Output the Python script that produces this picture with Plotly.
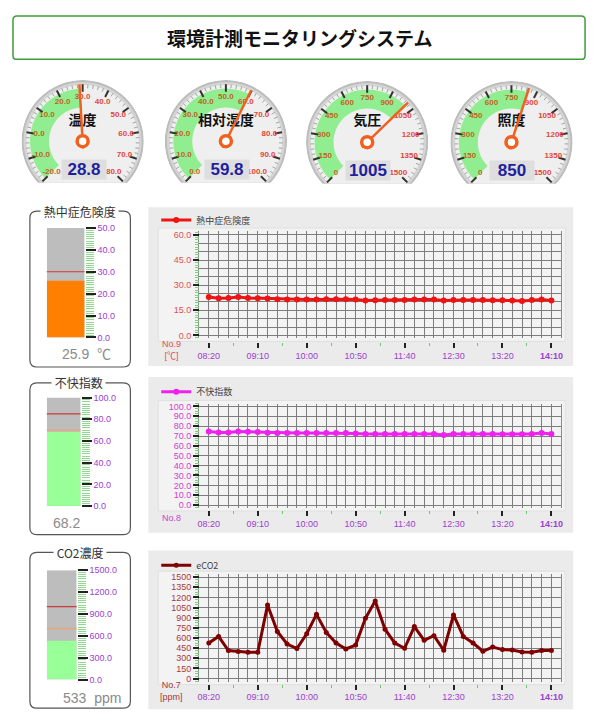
import math
import pandas as pd
import plotly.graph_objects as go

# page body has an 8px margin: the figure is sized so it fills the window exactly
OFF = 8
W, H = 600 - OFF, 728 - OFF
FONT = "Liberation Sans, Noto Sans CJK JP, sans-serif"
JP = "Noto Sans CJK JP, Liberation Sans, sans-serif"

# ---------------- data ----------------
TITLE = "環境計測モニタリングシステム"

GAUGE_NAMES = ["温度", "相対湿度", "気圧", "照度"]
GAUGE_VALUES = [28.8, 59.8, 1005, 850]
GAUGE_TEXT = ["28.8", "59.8", "1005", "850"]
GAUGE_MIN = [-20, 0, 0, 0]
GAUGE_MAX = [80, 100, 1500, 1500]
GAUGE_STEP = [10, 10, 150, 150]
GAUGE_DECIMALS = [1, 1, 0, 0]

TIMES = ["08:20", "08:30", "08:40", "08:50", "09:00", "09:10", "09:20", "09:30",
         "09:40", "09:50", "10:00", "10:10", "10:20", "10:30", "10:40", "10:50",
         "11:00", "11:10", "11:20", "11:30", "11:40", "11:50", "12:00", "12:10",
         "12:20", "12:30", "12:40", "12:50", "13:00", "13:10", "13:20", "13:30",
         "13:40", "13:50", "14:00", "14:10"]
DATE = "2024-06-01 "

HEAT = [22.9, 22.2, 22.4, 22.9, 22.4, 22.2, 22.0, 21.6, 21.4, 21.4, 21.4, 21.4,
        21.6, 21.6, 21.6, 21.4, 20.8, 21.0, 21.2, 21.2, 21.2, 21.4, 21.4, 21.4,
        20.8, 21.2, 21.2, 21.2, 21.2, 21.0, 21.0, 20.8, 20.6, 21.2, 21.4, 20.8]
DISCOMFORT = [74.7, 73.7, 73.7, 74.7, 74.3, 74.0, 73.3, 73.0, 73.0, 73.0, 73.0, 73.0,
              73.0, 73.0, 73.0, 72.7, 72.0, 72.0, 72.0, 72.0, 72.0, 72.0, 72.0, 72.0,
              71.0, 72.0, 72.0, 72.0, 72.0, 72.0, 71.7, 71.7, 71.7, 72.0, 73.0, 72.0]
ECO2 = [526, 623, 414, 400, 390, 390, 1086, 696, 511, 444, 663, 949,
        682, 526, 438, 496, 891, 1145, 730, 526, 448, 769, 565, 633,
        419, 940, 623, 526, 404, 467, 429, 423, 394, 390, 414, 414]
SERIES = [HEAT, DISCOMFORT, ECO2]
SERIES_NAMES = ["熱中症危険度", "不快指数", "eCO2"]
SERIES_UNITS = ["No.9<br>[℃]", "No.8", "No.7<br>[ppm]"]
CH_YMAX = [60, 100, 1500]
CH_LABEL_STEP = [15, 10, 150]
CH_GRID_STEP = [5, 10, 150]
CH_MINOR_STEP = [1.5, 2.5, 37.5]
CH_TICKFMT = [".1f", ".1f", "d"]
X_LABEL_EVERY = 5

LEVEL_NAMES = ["熱中症危険度", "不快指数", "CO2濃度"]
LEVEL_VALUES = [25.9, 68.2, 533]
LEVEL_TEXT = ["25.9  ℃", "68.2", "533  ppm"]
LEVEL_MAX = [50, 100, 1500]
LEVEL_STEP = [10, 20, 300]
LEVEL_WARN = [None, 70, 700]
LEVEL_ALERT = [30, 85, 1000]


# ---------------- helpers (window pixels -> paper) ----------------
def fx(p):
    return (p - OFF) / W


def fy(p):
    return 1 - (p - OFF) / H


def aid(letter, n):
    return letter if n == 1 else f"{letter}{n}"


def akey(letter, n):
    return f"{letter}axis" if n == 1 else f"{letter}axis{n}"


fig = go.Figure()
layout = {}
shapes = []
annotations = []


def rounded_path(x0, y0, x1, y1, r):
    pts = [("M", [(x0 + r, y0)]), ("L", [(x1 - r, y0)]), ("Q", [(x1, y0), (x1, y0 + r)]),
           ("L", [(x1, y1 - r)]), ("Q", [(x1, y1), (x1 - r, y1)]), ("L", [(x0 + r, y1)]),
           ("Q", [(x0, y1), (x0, y1 - r)]), ("L", [(x0, y0 + r)]), ("Q", [(x0, y0), (x0 + r, y0)])]
    s = ""
    for cmd, ps in pts:
        s += cmd + " " + " ".join(f"{fx(a):.5f},{fy(b):.5f}" for a, b in ps) + " "
    return s + "Z"


# ---------------- title ----------------
shapes.append(dict(type="path", xref="paper", yref="paper", path=rounded_path(12, 11, 587, 55, 4),
                   line=dict(color="#3f9b3a", width=1.5), fillcolor="white", layer="below"))
annotations.append(dict(x=fx(300), y=fy(33), xref="paper", yref="paper", showarrow=False,
                        xanchor="center", yanchor="middle",
                        text=f"<b>{TITLE}</b>", font=dict(family=JP, size=19, color="#111")))

# ---------------- gauges ----------------
G_CX = [82, 226, 368, 513]
G_CY = [138, 138, 139, 139]
G_R = 62
CHORD = 0.68


def g_theta(v, vmin, vmax):
    return 225 - (v - vmin) / (vmax - vmin) * 270


def chord_arc(r, n=100):
    a = math.degrees(math.asin(min(CHORD / r, 1.0)))
    s, e = 180 + a, -a
    return [s + (e - s) * k / (n - 1) for k in range(n)]


for i in range(4):
    sp = "polar" if i == 0 else f"polar{i + 1}"
    cx, cy = G_CX[i], G_CY[i]
    vmin, vmax, step, val = GAUGE_MIN[i], GAUGE_MAX[i], GAUGE_STEP[i], GAUGE_VALUES[i]
    layout[sp] = dict(domain=dict(x=[fx(cx - G_R), fx(cx + G_R)], y=[fy(cy + G_R), fy(cy - G_R)]),
                      bgcolor="rgba(0,0,0,0)",
                      radialaxis=dict(visible=False, range=[0, 1]),
                      angularaxis=dict(visible=False))
    common = dict(subplot=sp, hoverinfo="skip", showlegend=False)

    for rr, col in [(1.0, "#bdbdbd"), (0.965, "#d4d4d4"), (0.92, "#efefef")]:
        th = chord_arc(rr)
        fig.add_trace(go.Scatterpolar(r=[rr] * len(th), theta=th, mode="lines", fill="toself",
                                      fillcolor=col, line=dict(width=0, color=col), **common))

    t0, tv = g_theta(vmin, vmin, vmax), g_theta(val, vmin, vmax)
    n = 80
    arc = [t0 + (tv - t0) * k / (n - 1) for k in range(n)]
    fig.add_trace(go.Scatterpolar(r=[0.86] * n + [0.55] * n, theta=arc + arc[::-1], mode="lines",
                                  fill="toself", fillcolor="#90ee90", line=dict(width=0, color="#90ee90"),
                                  **common))

    nint = round((vmax - vmin) / step)
    mr, mt = [], []
    for j in range(nint * 5 + 1):
        if j % 5:
            th = g_theta(vmin + j * step / 5, vmin, vmax)
            mr += [0.87, 0.93, None]
            mt += [th, th, None]
    fig.add_trace(go.Scatterpolar(r=mr, theta=mt, mode="lines", line=dict(color="#9aa89a", width=1), **common))

    majors = [vmin + j * step for j in range(nint + 1)]
    Mr, Mt = [], []
    for v in majors:
        th = g_theta(v, vmin, vmax)
        Mr += [0.81, 0.93, None]
        Mt += [th, th, None]
    fig.add_trace(go.Scatterpolar(r=Mr, theta=Mt, mode="lines", line=dict(color="#333", width=2), **common))

    dec = GAUGE_DECIMALS[i]
    labels = [f"{v:.{dec}f}" for v in majors]
    lcols = ["#c0641e" if v <= val else "#e2473a" for v in majors]
    fig.add_trace(go.Scatterpolar(r=[0.72] * len(majors), theta=[g_theta(v, vmin, vmax) for v in majors],
                                  mode="text", text=[f"<b>{t}</b>" for t in labels],
                                  textfont=dict(family=FONT, size=8, color=lcols), **common))

    fig.add_trace(go.Scatterpolar(r=[0.33], theta=[90], mode="text", text=[f"<b>{GAUGE_NAMES[i]}</b>"],
                                  textfont=dict(family=JP, size=14, color="#111"), **common))

    fig.add_trace(go.Scatterpolar(r=[0.12, 0, 0.93], theta=[tv + 180, tv, tv], mode="lines",
                                  line=dict(color="#f0601e", width=2.5), **common))
    fig.add_trace(go.Scatterpolar(r=[0], theta=[0], mode="markers",
                                  marker=dict(size=11, color="white", line=dict(color="#f0601e", width=3.5)),
                                  **common))

    annotations.append(dict(x=fx(cx + 1), y=fy(cy + 29), xref="paper", yref="paper", showarrow=False,
                            text=f"<b>{GAUGE_TEXT[i]}</b>", font=dict(family=FONT, size=17, color="#1f1f9e"),
                            bgcolor="#dedede", width=42, height=17, xanchor="center", yanchor="middle"))

# ---------------- line charts ----------------
PANEL = [(148, 205, 575, 366), (148, 377, 575, 535), (148, 553, 575, 714)]
CH_TOP = [229, 404, 577]
CH_BOT = [338, 510, 686]
CH_VT = [233, 407, 580]
CH_VB = [335, 507, 683]
CH_TICK_Y = [342, 512, 688]
CH_X0, CH_X1 = 199, 563
LINE_COLORS = ["#ee1414", "#ee22ee", "#7f0000"]
LABEL_COLORS = ["#e05050", "#d040d0", "#a83a3a"]
LEGEND_Y = [218, 392, 568]

xd = [DATE + t for t in TIMES]
t_first = pd.Timestamp(xd[0])
t_last = pd.Timestamp(xd[-1])
xr = [(t_first - pd.Timedelta(minutes=10)).strftime("%Y-%m-%d %H:%M"),
      (t_last + pd.Timedelta(minutes=10)).strftime("%Y-%m-%d %H:%M")]
x_tickvals = xd[::X_LABEL_EVERY]
x_ticktext = TIMES[::X_LABEL_EVERY]
x_ticktext = x_ticktext[:-1] + [f"<b>{x_ticktext[-1]}</b>"]

for k in range(3):
    px0, py0, px1, py1 = PANEL[k]
    shapes.append(dict(type="rect", xref="paper", yref="paper", x0=fx(px0), x1=fx(px1), y0=fy(py1), y1=fy(py0),
                       fillcolor="#ebebeb", line=dict(width=0), layer="below"))
    shapes.append(dict(type="rect", xref="paper", yref="paper", x0=fx(158), x1=fx(567),
                       y0=fy(CH_BOT[k] + 3), y1=fy(CH_TOP[k] - 3),
                       fillcolor="#f3f3f3", line=dict(width=1, color="#e0e0e0"), layer="below"))

    nm, no = k + 1, k + 4
    xm, ym, xo, yo = aid("x", nm), aid("y", nm), aid("x", no), aid("y", no)
    ymax = CH_YMAX[k]
    u = ymax / (CH_VB[k] - CH_VT[k])
    yr = [-(CH_BOT[k] - CH_VB[k]) * u, ymax + (CH_VT[k] - CH_TOP[k]) * u]

    layout[akey("x", nm)] = dict(domain=[fx(CH_X0), fx(CH_X1)], anchor=ym, type="date", range=xr,
                                 tick0=xd[0], dtick=600000, showgrid=True, gridcolor="#7d7d7d", gridwidth=1,
                                 showticklabels=False, ticks="", zeroline=False, showline=False)
    layout[akey("y", nm)] = dict(domain=[fy(CH_BOT[k]), fy(CH_TOP[k])], anchor=xm, range=yr, tick0=0,
                                 dtick=CH_GRID_STEP[k], showgrid=True, gridcolor="#7d7d7d", gridwidth=1,
                                 showticklabels=False, ticks="", zeroline=False, showline=True, mirror=True,
                                 linecolor="#8a8a8a", linewidth=1)
    layout[akey("x", no)] = dict(overlaying=xm, anchor="free", position=fy(CH_TICK_Y[k]), side="bottom",
                                 type="date", range=xr, tickmode="array", tickvals=x_tickvals,
                                 ticktext=x_ticktext,
                                 ticks="outside", ticklen=5, tickwidth=2, tickcolor="#222",
                                 tickfont=dict(family=FONT, size=9, color="#9b40d0"),
                                 minor=dict(tickmode="linear", tick0=xd[0], dtick=1500000, ticks="outside",
                                            ticklen=3, tickwidth=1, tickcolor="#70c870"),
                                 showgrid=False, zeroline=False, showline=False)
    layout[akey("y", no)] = dict(overlaying=ym, anchor="free", position=fx(CH_X0), side="left", range=yr,
                                 tick0=0, dtick=CH_LABEL_STEP[k], tickformat=CH_TICKFMT[k],
                                 ticks="outside", ticklen=6, tickwidth=2, tickcolor="#222",
                                 tickfont=dict(family=FONT, size=9, color=LABEL_COLORS[k]),
                                 minor=dict(tick0=0, dtick=CH_MINOR_STEP[k], ticks="outside", ticklen=4,
                                            tickwidth=1, tickcolor="#7fcf7f"),
                                 showgrid=False, zeroline=False, showline=False)

    lg = "legend" if k == 0 else f"legend{k + 1}"
    fig.add_trace(go.Scatter(x=xd, y=SERIES[k], xaxis=xm, yaxis=ym, mode="lines+markers",
                             name=SERIES_NAMES[k], legend=lg,
                             line=dict(color=LINE_COLORS[k], width=3),
                             marker=dict(size=6 if k < 2 else 5, color=LINE_COLORS[k])))
    fig.add_trace(go.Scatter(x=xd, y=SERIES[k], xaxis=xo, yaxis=yo, mode="markers",
                             marker=dict(opacity=0), showlegend=False, hoverinfo="skip"))
    layout[lg] = dict(x=fx(156), y=fy(LEGEND_Y[k]), xanchor="left", yanchor="middle",
                      bgcolor="rgba(0,0,0,0)", font=dict(family=JP, size=9, color="#444"),
                      itemwidth=30, tracegroupgap=0)
    annotations.append(dict(x=fx(171), y=fy(CH_TICK_Y[k] + 8), xref="paper", yref="paper", showarrow=False,
                            text=SERIES_UNITS[k], font=dict(family=FONT, size=9, color=LABEL_COLORS[k]),
                            xanchor="center", yanchor="middle"))

# ---------------- level bars ----------------
BAR_X = [(46, 84), (46, 80), (46, 76)]
BAR_Y = [(226, 337), (398, 508), (573, 684)]
BOX = [(29, 209, 130, 367), (29, 383, 130, 537), (29, 555, 130, 713)]
BOX_TITLE_X = [79, 78, 79]
TEXT_POS = [(86, 354), (66, 525), (91, 703)]
BAR_COLORS = ["#ff8000", "#99ff99", "#99ff99"]

for k in range(3):
    nb = k + 7
    xb, yb = aid("x", nb), aid("y", nb)
    bx0, bx1 = BAR_X[k]
    by0, by1 = BAR_Y[k]
    layout[akey("x", nb)] = dict(domain=[fx(bx0), fx(bx1)], anchor=yb, type="category", range=[-0.5, 0.5],
                                 visible=False)
    layout[akey("y", nb)] = dict(domain=[fy(by1), fy(by0)], anchor=xb, side="right", range=[0, LEVEL_MAX[k]],
                                 tick0=0, dtick=LEVEL_STEP[k], tickformat=".1f", ticks="outside", ticklen=10,
                                 tickwidth=2, tickcolor="#222",
                                 tickfont=dict(family=FONT, size=9, color="#9b40d0"),
                                 minor=dict(tick0=0, dtick=LEVEL_STEP[k] / 10, ticks="outside", ticklen=8,
                                            tickwidth=1, tickcolor="#90d890"),
                                 showgrid=False, zeroline=False, showline=False)
    fig.add_trace(go.Bar(x=[LEVEL_NAMES[k]], y=[LEVEL_MAX[k]], xaxis=xb, yaxis=yb, width=1,
                         marker=dict(color="#bdbdbd", line=dict(width=0)), showlegend=False, hoverinfo="skip"))
    fig.add_trace(go.Bar(x=[LEVEL_NAMES[k]], y=[LEVEL_VALUES[k]], xaxis=xb, yaxis=yb, width=1,
                         marker=dict(color=BAR_COLORS[k], line=dict(width=0)), showlegend=False))
    if LEVEL_WARN[k] is not None:
        shapes.append(dict(type="line", xref=f"{xb} domain", yref=yb, x0=0, x1=1, y0=LEVEL_WARN[k],
                           y1=LEVEL_WARN[k], line=dict(color="#e8a878", width=1.5)))
    shapes.append(dict(type="line", xref=f"{xb} domain", yref=yb, x0=0, x1=1, y0=LEVEL_ALERT[k],
                       y1=LEVEL_ALERT[k], line=dict(color="#cc3a3a", width=1.2)))

    b0, b1, b2, b3 = BOX[k]
    shapes.append(dict(type="path", xref="paper", yref="paper", path=rounded_path(b0, b1, b2, b3, 7),
                       line=dict(color="#555", width=1.2), layer="below"))
    annotations.append(dict(x=fx(BOX_TITLE_X[k]), y=fy(b1), xref="paper", yref="paper", showarrow=False,
                            text=f"&nbsp;{LEVEL_NAMES[k]}&nbsp;", font=dict(family=JP, size=12, color="#333"),
                            bgcolor="white", xanchor="center", yanchor="middle", borderpad=0))
    annotations.append(dict(x=fx(TEXT_POS[k][0]), y=fy(TEXT_POS[k][1]), xref="paper", yref="paper",
                            showarrow=False, text=LEVEL_TEXT[k],
                            font=dict(family=FONT, size=14, color="#8a8a8a"),
                            xanchor="center", yanchor="middle"))

fig.update_layout(**layout)
fig.update_layout(width=W, height=H, margin=dict(l=0, r=0, t=0, b=0), paper_bgcolor="white",
                  plot_bgcolor="rgba(0,0,0,0)", barmode="overlay", shapes=shapes, annotations=annotations,
                  font=dict(family=FONT, size=10, color="#333"), showlegend=True, hovermode=False)
fig.write_html("out.html")
